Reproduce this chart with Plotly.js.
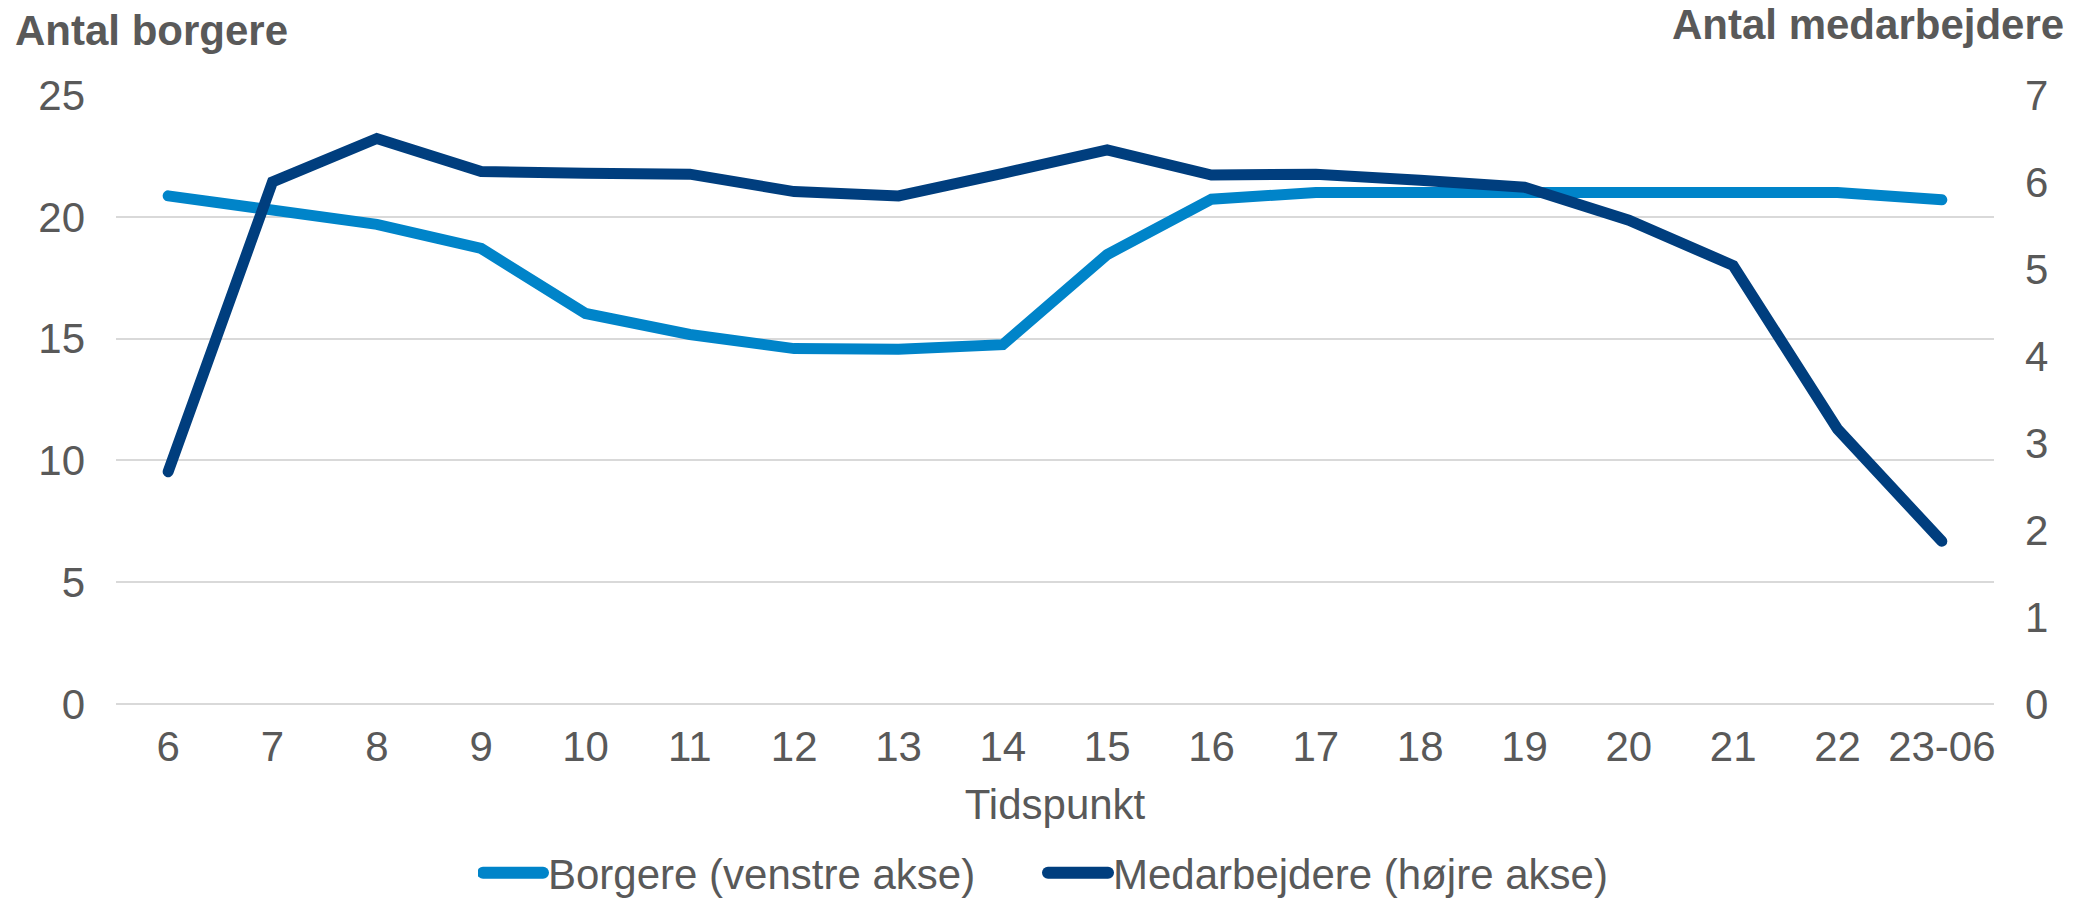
<!DOCTYPE html>
<html>
<head>
<meta charset="utf-8">
<script src="https://cdn.plot.ly/plotly-3.0.1.min.js"></script>
<style>
  html, body { margin: 0; padding: 0; background: #ffffff; }
  #chart { width: 2075px; height: 901px; }
  #chart .legend .legendlines path { stroke-width: 12px !important; stroke-linecap: round; }
  #chart .scatterlayer .js-line { stroke-linecap: round; }
</style>
</head>
<body>
<div id="chart"></div>
<script>
// ---- Data ----
const categories = ['6', '7', '8', '9', '10', '11', '12', '13', '14', '15', '16', '17', '18', '19', '20', '21', '22', '23-06'];
const borgere = [20.86, 20.28, 19.69, 18.70, 16.03, 15.17, 14.59, 14.56, 14.75, 18.45, 20.72, 21.0, 21.0, 21.0, 21.0, 21.0, 21.0, 20.7];
const medarbejdere = [2.67, 6.00, 6.50, 6.12, 6.10, 6.09, 5.89, 5.84, 6.10, 6.37, 6.08, 6.09, 6.02, 5.94, 5.56, 5.04, 3.16, 1.87];
const leftTicks = [0, 5, 10, 15, 20, 25];
const rightTicks = [0, 1, 2, 3, 4, 5, 6, 7];

const seriesNames = ['Borgere (venstre akse)', 'Medarbejdere (højre akse)'];
const leftTitle = 'Antal borgere';
const rightTitle = 'Antal medarbejdere';
const xTitle = 'Tidspunkt';

// ---- Styling ----
const FONT = 'Liberation Sans, Arial, sans-serif';
const TXT = '#595959';
const LIGHT = '#0084C9';
const DARK = '#003E7E';
const GRID = '#D9D9D9';

const W = 2075, H = 901;
const M = { l: 116, r: 81, t: 95, b: 197 };
const plotW = W - M.l - M.r;
const plotH = H - M.t - M.b;
const px2x = p => (p - M.l) / plotW;
const py2y = p => (H - M.b - p) / plotH;

const traces = [
  {
    x: categories, y: borgere, name: seriesNames[0],
    type: 'scatter', mode: 'lines', yaxis: 'y',
    line: { color: LIGHT, width: 11 },
    hoverinfo: 'skip'
  },
  {
    x: categories, y: medarbejdere, name: seriesNames[1],
    type: 'scatter', mode: 'lines', yaxis: 'y2',
    line: { color: DARK, width: 11 },
    hoverinfo: 'skip'
  }
];

const layout = {
  width: W, height: H,
  margin: M,
  paper_bgcolor: '#ffffff',
  plot_bgcolor: '#ffffff',
  font: { family: FONT, size: 42, color: TXT },
  showlegend: true,
  legend: {
    orientation: 'h',
    xref: 'container', yref: 'container',
    x: 1043 / W, xanchor: 'center',
    y: (H - 873) / H, yanchor: 'middle',
    font: { family: FONT, size: 42, color: TXT },
    itemwidth: 60,
    entrywidth: 490,
    bgcolor: 'rgba(0,0,0,0)'
  },
  xaxis: {
    type: 'category',
    categoryorder: 'array', categoryarray: categories,
    range: [-0.5, categories.length - 0.5],
    showgrid: false, zeroline: false, showline: false,
    ticks: '',
    tickfont: { family: FONT, size: 42, color: TXT },
    ticklabelstandoff: 14,
    title: { text: xTitle, font: { family: FONT, size: 42, color: TXT }, standoff: 20 },
    fixedrange: true
  },
  yaxis: {
    range: [0, 25],
    tickvals: leftTicks,
    ticks: '',
    showgrid: true, gridcolor: GRID, gridwidth: 2,
    zeroline: true, zerolinecolor: GRID, zerolinewidth: 2,
    showline: false,
    tickfont: { family: FONT, size: 42, color: TXT },
    ticklabelstandoff: 30,
    fixedrange: true
  },
  yaxis2: {
    range: [0, 7],
    tickvals: rightTicks,
    overlaying: 'y', side: 'right',
    ticks: '',
    showgrid: false, zeroline: false, showline: false,
    tickfont: { family: FONT, size: 42, color: TXT },
    ticklabelstandoff: 30,
    fixedrange: true
  },
  annotations: [
    {
      text: '<b>' + leftTitle + '</b>',
      xref: 'paper', yref: 'paper',
      x: px2x(13), xanchor: 'left',
      y: py2y(30.5), yanchor: 'middle',
      showarrow: false,
      font: { family: FONT, size: 42, color: TXT }
    },
    {
      text: '<b>' + rightTitle + '</b>',
      xref: 'paper', yref: 'paper',
      x: px2x(2066), xanchor: 'right',
      y: py2y(24.5), yanchor: 'middle',
      showarrow: false,
      font: { family: FONT, size: 42, color: TXT }
    }
  ]
};

Plotly.newPlot('chart', traces, layout, { displayModeBar: false, staticPlot: true });
</script>
</body>
</html>
